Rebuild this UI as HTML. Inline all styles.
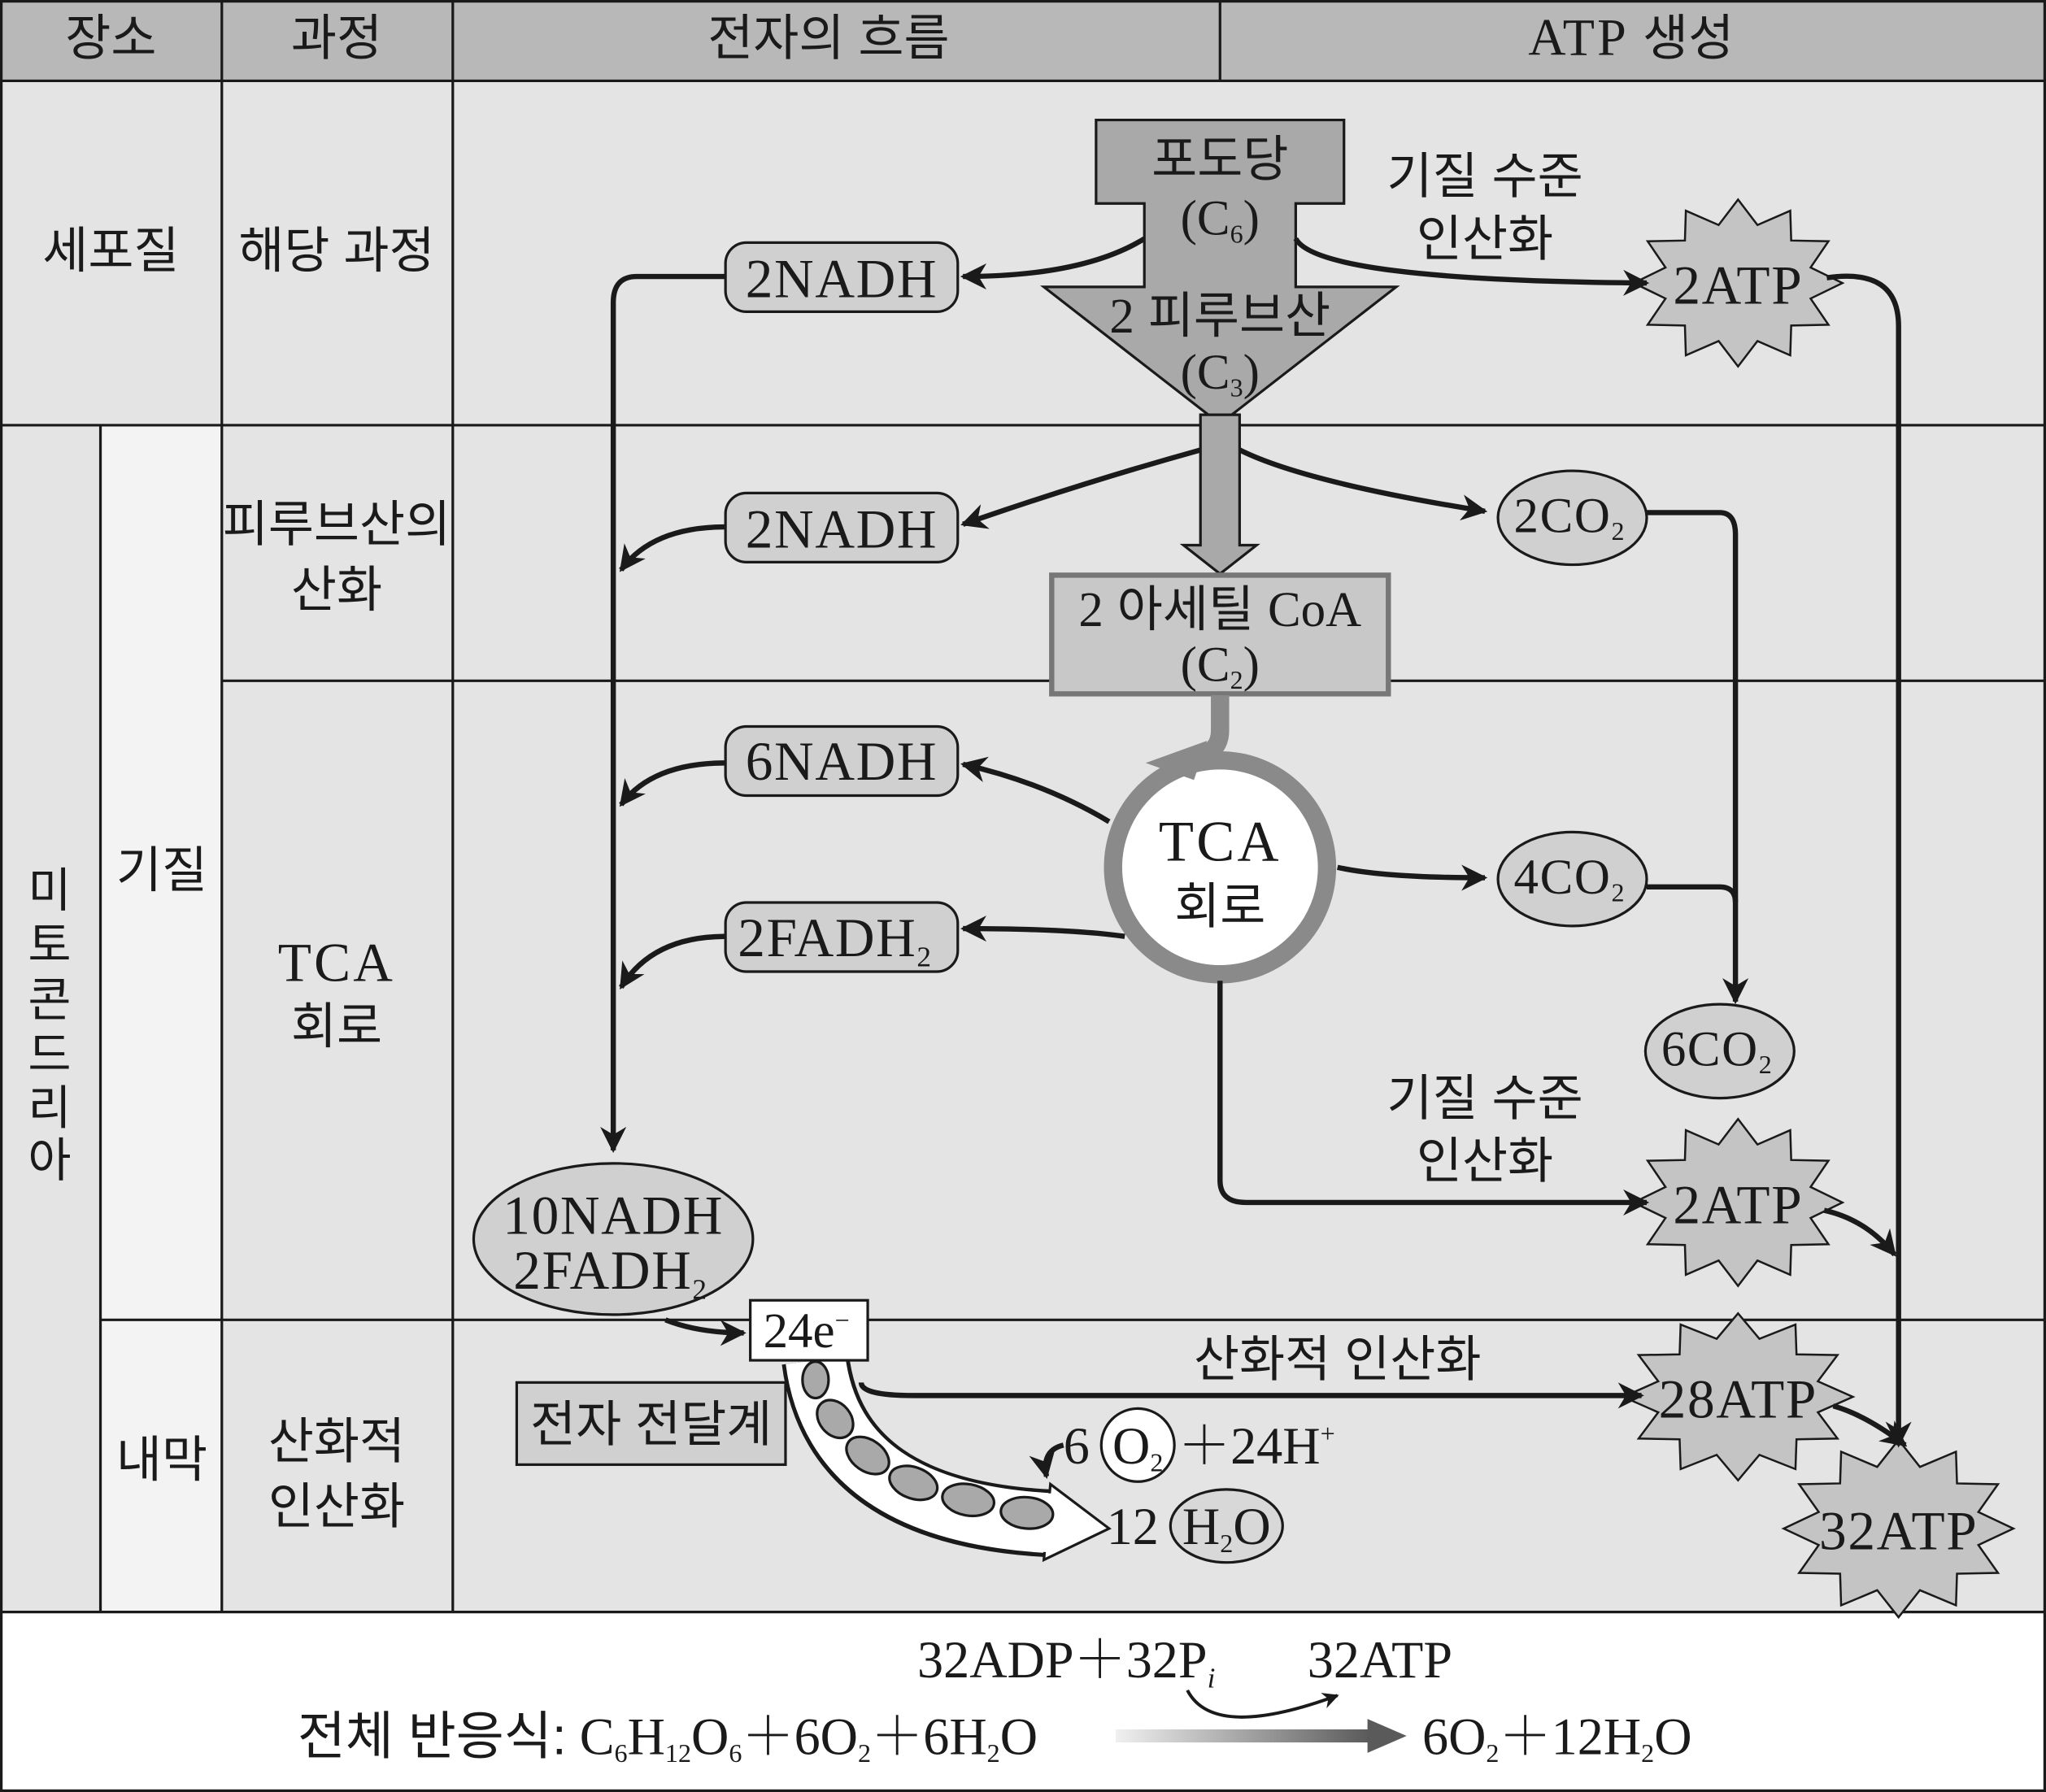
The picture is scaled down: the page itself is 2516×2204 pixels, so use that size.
<!DOCTYPE html>
<html><head><meta charset="utf-8"><style>
html,body{margin:0;padding:0;background:#fff}
svg{display:block}
.k{font-family:"Liberation Sans","Noto Sans CJK KR",sans-serif;}
.s{font-family:"Liberation Serif","Noto Serif CJK SC",serif;}
text{fill:#1a1a1a}
</style></head><body>
<svg width="2516" height="2204" viewBox="0 0 1568 1374" preserveAspectRatio="none" xmlns="http://www.w3.org/2000/svg">
<defs>
<marker id="ah" viewBox="0 0 10 10" refX="9" refY="5" markerWidth="5" markerHeight="5" orient="auto" markerUnits="strokeWidth"><path d="M0,0 L10,5 L0,10 L3,5 z" fill="#1a1a1a"/></marker>
<polygon id="star" points="1,0 0.695,0.186 0.866,0.5 0.509,0.509 0.5,0.866 0.186,0.695 0,1 -0.186,0.695 -0.5,0.866 -0.509,0.509 -0.866,0.5 -0.695,0.186 -1,0 -0.695,-0.186 -0.866,-0.5 -0.509,-0.509 -0.5,-0.866 -0.186,-0.695 0,-1 0.186,-0.695 0.5,-0.866 0.509,-0.509 0.866,-0.5 0.695,-0.186" fill="#c4c4c4" stroke="#1a1a1a" stroke-width="2.5" vector-effect="non-scaling-stroke"/>
<linearGradient id="gr" x1="0" x2="1"><stop offset="0" stop-color="#f0f0f0"/><stop offset="1" stop-color="#5a5a5a"/></linearGradient>
</defs>
<rect x="0" y="0" width="1568" height="1374" fill="#fff"/>
<rect x="0" y="0" width="1568" height="62" fill="#b8b8b8"/>
<rect x="0" y="62" width="1568" height="1174" fill="#e4e4e4"/>
<rect x="77" y="326" width="93" height="910" fill="#f3f3f3"/>
<g stroke="#1a1a1a" stroke-width="2" fill="none">
<rect x="1" y="1" width="1566" height="1372"/>
<line x1="0" y1="62" x2="1568" y2="62"/>
<line x1="0" y1="326" x2="1568" y2="326"/>
<line x1="170" y1="522" x2="1568" y2="522"/>
<line x1="77" y1="1012" x2="1568" y2="1012"/>
<line x1="0" y1="1236" x2="1568" y2="1236"/>
<line x1="170" y1="0" x2="170" y2="1236"/>
<line x1="347" y1="0" x2="347" y2="1236"/>
<line x1="935" y1="0" x2="935" y2="62"/>
<line x1="77" y1="326" x2="77" y2="1236"/>
</g>
<g class="k" font-size="38" text-anchor="middle">
<text x="85" y="42">장소</text><text x="258" y="42">과정</text><text x="635" y="42">전자의 흐름</text>
<text x="1250" y="42"><tspan class="s" font-size="40" letter-spacing="2">ATP</tspan> 생성</text>
<text x="85" y="205">세포질</text><text x="258" y="205">해당 과정</text>
<text x="258" y="415">피루브산의</text><text x="258" y="465">산화</text>
<text class="s" x="258" y="752" font-size="42" letter-spacing="2">TCA</text><text x="258" y="800">회로</text>
<text x="258" y="1118">산화적</text><text x="258" y="1168">인산화</text>
<text x="124" y="680">기질</text><text x="124" y="1132">내막</text>
<text x="1138" y="148">기질 수준</text><text x="1138" y="196">인산화</text>
<text x="1138" y="855">기질 수준</text><text x="1138" y="903">인산화</text>
<text x="1025" y="1055">산화적 인산화</text>
</g>
<g class="k" font-size="36" text-anchor="middle">
<text x="38" y="695">미</text><text x="38" y="737">토</text><text x="38" y="779">콘</text><text x="38" y="821">드</text><text x="38" y="862">리</text><text x="38" y="902">아</text>
</g>
<path d="M840,92 H1030 V156 H993 V220 H1070 L935,325 L800,220 H877 V156 H840 Z" fill="#a9a9a9" stroke="#1a1a1a" stroke-width="2"/>
<g text-anchor="middle" font-size="38">
<text class="k" x="935" y="135">포도당</text>
<text class="s" x="935" y="180">(C<tspan font-size="20" dy="6">6</tspan><tspan dy="-6">)</tspan></text>
<text class="k" x="935" y="255"><tspan class="s">2</tspan> 피루브산</text>
<text class="s" x="935" y="298">(C<tspan font-size="20" dy="6">3</tspan><tspan dy="-6">)</tspan></text>
</g>
<path d="M920,318 H950 V418 H963 L935,440 L907,418 H920 Z" fill="#a9a9a9" stroke="#1a1a1a" stroke-width="2"/>
<rect x="806" y="441" width="258" height="91" fill="#c8c8c8" stroke="#777" stroke-width="4"/>
<text class="k" x="935" y="480" font-size="38" text-anchor="middle"><tspan class="s">2</tspan> 아세틸 <tspan class="s">CoA</tspan></text>
<text class="s" x="935" y="522" font-size="38" text-anchor="middle">(C<tspan font-size="20" dy="6">2</tspan><tspan dy="-6">)</tspan></text>
<circle cx="935" cy="665" r="82" fill="#fff" stroke="#8a8a8a" stroke-width="14"/>
<path d="M935,533 V560 Q935,578 915,580" fill="none" stroke="#8a8a8a" stroke-width="14"/>
<polygon points="878,585 925,568 915,598" fill="#8a8a8a"/>
<text class="s" x="935" y="660" font-size="44" letter-spacing="2" text-anchor="middle">TCA</text>
<text class="k" x="935" y="708" font-size="38" text-anchor="middle">회로</text>
<g fill="#d0d0d0" stroke="#1a1a1a" stroke-width="2">
<rect x="556" y="186" width="178" height="53" rx="16"/>
<rect x="556" y="378" width="178" height="53" rx="16"/>
<rect x="556" y="557" width="178" height="53" rx="16"/>
<rect x="556" y="692" width="178" height="53" rx="16"/>
<ellipse cx="1205" cy="397" rx="57" ry="36"/>
<ellipse cx="1205" cy="674" rx="57" ry="36"/>
<ellipse cx="1318" cy="806" rx="57" ry="36"/>
<ellipse cx="470" cy="950" rx="107" ry="58"/>
<rect x="396" y="1060" width="206" height="63"/>
</g>
<g class="s" font-size="42" text-anchor="middle" letter-spacing="1">
<text x="645" y="228">2NADH</text><text x="645" y="420">2NADH</text><text x="645" y="598">6NADH</text>
<text x="640" y="733">2FADH<tspan font-size="22" dy="8">2</tspan></text>
<text x="1203" y="408" font-size="38">2CO<tspan font-size="20" dy="6">2</tspan></text>
<text x="1203" y="685" font-size="38">4CO<tspan font-size="20" dy="6">2</tspan></text>
<text x="1316" y="817" font-size="38">6CO<tspan font-size="20" dy="6">2</tspan></text>
<text x="470" y="946">10NADH</text>
<text x="468" y="988">2FADH<tspan font-size="22" dy="8">2</tspan></text>
</g>
<text class="k" x="499" y="1105" font-size="38" text-anchor="middle">전자 전달계</text>
<use href="#star" transform="translate(1332,217) scale(80,64)"/>
<use href="#star" transform="translate(1332,922) scale(80,64)"/>
<use href="#star" transform="translate(1332,1071) scale(88,64)"/>
<use href="#star" transform="translate(1455,1172) scale(88,68)"/>
<g class="s" font-size="42" text-anchor="middle" letter-spacing="1">
<text x="1332" y="233">2ATP</text><text x="1332" y="938">2ATP</text><text x="1332" y="1087">28ATP</text><text x="1455" y="1188">32ATP</text>
</g>
<g fill="none" stroke="#1a1a1a" stroke-width="4" marker-end="url(#ah)">
<path d="M877,183 Q830,212 738,212"/>
<path d="M993,183 Q1010,215 1262,217"/>
<path d="M1400,213 Q1455,205 1455,250 V1108"/>
<path d="M556,212 H488 Q470,212 470,232 V882"/>
<path d="M920,345 Q830,370 738,402"/>
<path d="M950,345 Q1000,370 1138,392"/>
<path d="M1262,393 H1318 Q1330,393 1330,410 V768"/>
<path d="M556,404 Q500,404 476,437"/>
<path d="M556,585 Q500,585 476,617"/>
<path d="M556,718 Q500,718 476,757"/>
<path d="M850,630 Q800,600 738,586"/>
<path d="M862,718 Q820,712 738,712"/>
<path d="M1025,665 Q1060,673 1138,673"/>
<path d="M935,752 V905 Q935,922 955,922 H1262"/>
<path d="M1398,928 Q1430,935 1452,962"/>
<path d="M1405,1078 Q1430,1085 1460,1108"/>
<path d="M660,1060 Q660,1070 700,1070 H1258"/>
<path d="M510,1012 Q535,1022 570,1022"/>
</g>
<path d="M1262,680 H1318 Q1330,680 1330,692" fill="none" stroke="#1a1a1a" stroke-width="4"/>
<path d="M625,1043 Q640,1160 805,1168" fill="none" stroke="#1a1a1a" stroke-width="52"/>
<path d="M625,1043 Q640,1160 808,1168" fill="none" stroke="#fff" stroke-width="46"/>
<polygon points="850,1172 805,1138 800,1196" fill="#fff" stroke="#1a1a1a" stroke-width="2"/>
<line x1="803" y1="1145" x2="802" y2="1190" stroke="#fff" stroke-width="6"/>
<g fill="#a9a9a9" stroke="#1a1a1a" stroke-width="2">
<ellipse cx="625" cy="1058" rx="10" ry="14"/>
<ellipse cx="640" cy="1088" rx="12" ry="16" transform="rotate(-40 640 1088)"/>
<ellipse cx="665" cy="1116" rx="12" ry="18" transform="rotate(-55 665 1116)"/>
<ellipse cx="700" cy="1137" rx="12" ry="19" transform="rotate(-70 700 1137)"/>
<ellipse cx="742" cy="1150" rx="12" ry="20" transform="rotate(-80 742 1150)"/>
<ellipse cx="787" cy="1160" rx="12" ry="20" transform="rotate(-85 787 1160)"/>
</g>
<rect x="575" y="997" width="90" height="46" fill="#fff" stroke="#1a1a1a" stroke-width="2"/>
<text class="s" x="618" y="1033" font-size="38" text-anchor="middle">24e<tspan font-size="20" dy="-14">−</tspan></text>
<circle cx="872" cy="1108" r="28" fill="#fff" stroke="#1a1a1a" stroke-width="2"/>
<ellipse cx="940" cy="1170" rx="43" ry="28" fill="#d8d8d8" stroke="#1a1a1a" stroke-width="2"/>
<g class="s" font-size="40">
<text x="815" y="1122">6</text>
<text x="872" y="1122" text-anchor="middle">O<tspan font-size="20" dy="6">2</tspan></text>
<text x="903" y="1122">＋24H<tspan font-size="20" dy="-16">+</tspan></text>
<text x="848" y="1184">12</text>
<text x="940" y="1184" text-anchor="middle">H<tspan font-size="20" dy="6">2</tspan><tspan dy="-6">O</tspan></text>
</g>
<path d="M815,1108 Q798,1112 802,1132" fill="none" stroke="#1a1a1a" stroke-width="4" marker-end="url(#ah)"/>
<g class="s" font-size="40">
<text x="703" y="1286">32ADP＋32P<tspan font-style="italic" font-size="22" dy="8">i</tspan></text>
<text x="1002" y="1286">32ATP</text>
<text x="228" y="1345"><tspan class="k">전체 반응식:</tspan> C<tspan font-size="20" dy="6">6</tspan><tspan dy="-6">H</tspan><tspan font-size="20" dy="6">12</tspan><tspan dy="-6">O</tspan><tspan font-size="20" dy="6">6</tspan><tspan dy="-6">＋6O</tspan><tspan font-size="20" dy="6">2</tspan><tspan dy="-6">＋6H</tspan><tspan font-size="20" dy="6">2</tspan><tspan dy="-6">O</tspan></text>
<text x="1090" y="1345">6O<tspan font-size="20" dy="6">2</tspan><tspan dy="-6">＋12H</tspan><tspan font-size="20" dy="6">2</tspan><tspan dy="-6">O</tspan></text>
</g>
<rect x="855" y="1326" width="195" height="10" fill="url(#gr)"/>
<polygon points="1048,1318 1078,1331 1048,1344" fill="#5a5a5a"/>
<path d="M910,1296 Q930,1335 1025,1300" fill="none" stroke="#1a1a1a" stroke-width="2.5" marker-end="url(#ah)"/>
</svg>
</body></html>
